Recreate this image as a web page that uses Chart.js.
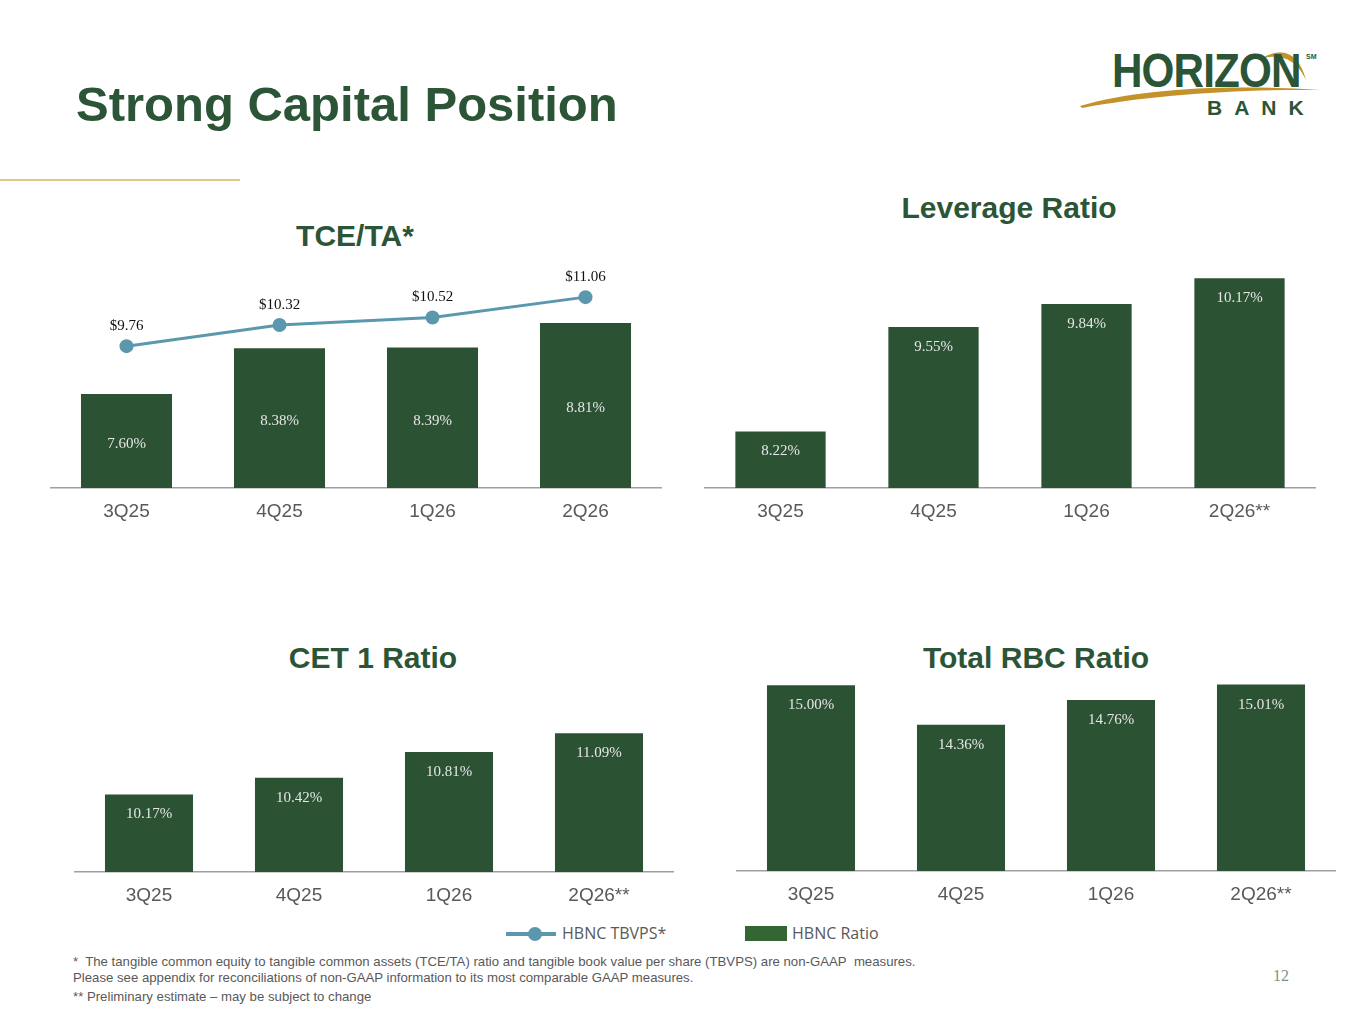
<!DOCTYPE html>
<html>
<head>
<meta charset="utf-8">
<script src="https://cdn.jsdelivr.net/npm/chart.js@4"></script>
<style>
  html,body{margin:0;padding:0;background:#fff;}
  body{width:1365px;height:1024px;position:relative;overflow:hidden;font-family:"Liberation Sans",Arial,sans-serif;}
  .abs{position:absolute;}
  .title{left:76px;top:80px;font-size:49px;line-height:49px;font-weight:bold;color:#2b5536;white-space:nowrap;}
  .sub{font-size:30px;line-height:30px;font-weight:bold;color:#2b5536;white-space:nowrap;transform:translateX(-50%);}
  .goldline{left:0;top:179px;width:240px;height:2px;background:#dcc88e;}
  .box{position:absolute;}
  .box canvas{display:block;}
  .foot{left:73px;font-size:13.2px;line-height:14px;color:#595959;white-space:nowrap;}
  .leg{font-family:"Open Sans",sans-serif;font-size:16px;line-height:16px;color:#595959;white-space:nowrap;}
</style>
</head>
<body>
<div class="abs title">Strong Capital Position</div>
<div class="abs goldline"></div>

<!-- logo -->
<svg class="abs" style="left:1070px;top:40px" width="270" height="90" viewBox="0 0 270 90">
  <path d="M10 66 C 70 48, 160 44, 250 50 C 170 49, 80 55, 12 68 Z" fill="#c4922b"/>
  <path d="M192 18 C 210 8, 228 10, 236 40 C 226 18, 210 14, 192 18 Z" fill="#c4922b"/>
</svg>
<div class="abs" style="left:1112px;top:47px;font-size:48px;line-height:48px;font-weight:bold;color:#2b5536;transform:scaleX(0.88);transform-origin:left top;letter-spacing:-1px;">HORIZON</div>
<div class="abs" style="left:1306px;top:53px;font-size:7px;line-height:7px;font-weight:bold;color:#2b5536;">SM</div>
<div class="abs" style="left:1207px;top:97px;font-size:21px;line-height:21px;font-weight:bold;color:#2b5536;letter-spacing:12px;">BANK</div>

<div class="abs sub" style="left:355px;top:221px;">TCE/TA*</div>
<div class="abs sub" style="left:1009px;top:193px;">Leverage Ratio</div>
<div class="abs sub" style="left:373px;top:643px;">CET 1 Ratio</div>
<div class="abs sub" style="left:1036px;top:643px;">Total RBC Ratio</div>

<div class="box" style="left:50px;top:253px;width:612px;height:275px;"><canvas id="c1"></canvas></div>
<div class="box" style="left:704px;top:253px;width:612px;height:275px;"><canvas id="c2"></canvas></div>
<div class="box" style="left:74px;top:673px;width:600px;height:239px;"><canvas id="c3"></canvas></div>
<div class="box" style="left:736px;top:679px;width:600px;height:232px;"><canvas id="c4"></canvas></div>

<!-- legend -->
<div class="abs" style="left:506px;top:932px;width:50px;height:4px;background:#5b98ae;"></div>
<div class="abs" style="left:528px;top:927px;width:14px;height:14px;border-radius:50%;background:#5b98ae;"></div>
<div class="abs leg" style="left:562px;top:925px;">HBNC TBVPS*</div>
<div class="abs" style="left:745px;top:926px;width:42px;height:15px;background:#336633;"></div>
<div class="abs leg" style="left:792px;top:925px;">HBNC Ratio</div>

<div class="abs foot" style="top:955px;">*&nbsp; The tangible common equity to tangible common assets (TCE/TA) ratio and tangible book value per share (TBVPS) are non-GAAP&nbsp; measures.</div>
<div class="abs foot" style="top:971px;">Please see appendix for reconciliations of non-GAAP information to its most comparable GAAP measures.</div>
<div class="abs foot" style="top:990px;">** Preliminary estimate – may be subject to change</div>
<div class="abs" style="left:1273px;top:968px;font-family:'Liberation Serif',serif;font-size:16px;line-height:16px;color:#8a8a8a;">12</div>

<script>
const quarters = ['3Q25', '4Q25', '1Q26', '2Q26'];
const quartersEst = ['3Q25', '4Q25', '1Q26', '2Q26**'];
const tceValues = [7.60, 8.38, 8.39, 8.81];
const tbvpsValues = [9.76, 10.32, 10.52, 11.06];
const leverageValues = [8.22, 9.55, 9.84, 10.17];
const cet1Values = [10.17, 10.42, 10.81, 11.09];
const rbcValues = [15.00, 14.36, 14.76, 15.01];

const BAR = '#2c5234';
const LINE = '#5b98ae';

const labelPlugin = {
  id: 'valueLabels',
  afterDatasetsDraw(chart, args, opts) {
    const ctx = chart.ctx;
    const mode = (chart.options.plugins.valueLabels || {}).mode;
    chart.data.datasets.forEach((ds, i) => {
      const meta = chart.getDatasetMeta(i);
      const scale = chart.scales[meta.yAxisID];
      const isBar = (ds.type || chart.config.type) === 'bar';
      meta.data.forEach((el, j) => {
        const v = ds.data[j];
        const yv = scale.getPixelForValue(v);
        ctx.save();
        ctx.font = '15px "Liberation Serif", "Times New Roman", serif';
        ctx.textAlign = 'center';
        ctx.textBaseline = 'middle';
        if (isBar) {
          ctx.fillStyle = '#e6e6e6';
          const y = mode === 'center' ? (yv + scale.bottom) / 2 + 3 : yv + 20;
          ctx.fillText(v.toFixed(2) + '%', el.x, y);
        } else {
          ctx.fillStyle = '#111';
          ctx.fillText('$' + v.toFixed(2), el.x, yv - 20);
        }
        ctx.restore();
      });
    });
  }
};

function xAxis(h) {
  return {
    grid: { display: false, drawTicks: false },
    border: { display: true, color: '#a0a0a0', width: 1.5 },
    ticks: { color: '#595959', font: { family: '"Liberation Sans", Arial, sans-serif', size: 19 }, padding: 12 },
    afterFit(scale) { scale.height = h; }
  };
}

function baseOptions(min, max, mode, bp, xh) {
  return {
    responsive: true,
    maintainAspectRatio: false,
    animation: false,
    layout: { padding: 0, autoPadding: false },
    plugins: { legend: { display: false }, tooltip: { enabled: false }, valueLabels: { mode: mode } },
    scales: {
      x: xAxis(xh),
      y: { display: false, min: min, max: max }
    },
    datasets: { bar: { categoryPercentage: 1, barPercentage: bp } }
  };
}

// TCE/TA with TBVPS line
const o1 = baseOptions(6, 10, 'center', 0.595, 40);
o1.scales.y2 = { display: false, min: 6, max: 12.23 };
new Chart(document.getElementById('c1'), {
  data: {
    labels: quarters,
    datasets: [
      { type: 'line', label: 'HBNC TBVPS*', data: tbvpsValues, yAxisID: 'y2', borderColor: LINE, backgroundColor: LINE,
        borderWidth: 3, pointRadius: 7, pointBackgroundColor: LINE, pointBorderWidth: 0, tension: 0, clip: false, order: 0 },
      { type: 'bar', label: 'HBNC Ratio', data: tceValues, yAxisID: 'y', backgroundColor: BAR, order: 1 }
    ]
  },
  options: o1,
  plugins: [labelPlugin]
});

new Chart(document.getElementById('c2'), {
  type: 'bar',
  data: { labels: quartersEst, datasets: [{ label: 'HBNC Ratio', data: leverageValues, backgroundColor: BAR }] },
  options: baseOptions(7.5, 10.49, 'end', 0.59, 40),
  plugins: [labelPlugin]
});

new Chart(document.getElementById('c3'), {
  type: 'bar',
  data: { labels: quartersEst, datasets: [{ label: 'HBNC Ratio', data: cet1Values, backgroundColor: BAR }] },
  options: baseOptions(9, 12, 'end', 0.587, 40),
  plugins: [labelPlugin]
});

new Chart(document.getElementById('c4'), {
  type: 'bar',
  data: { labels: quartersEst, datasets: [{ label: 'HBNC Ratio', data: rbcValues, backgroundColor: BAR }] },
  options: baseOptions(12, 15.1, 'end', 0.587, 40),
  plugins: [labelPlugin]
});
</script>
</body>
</html>
